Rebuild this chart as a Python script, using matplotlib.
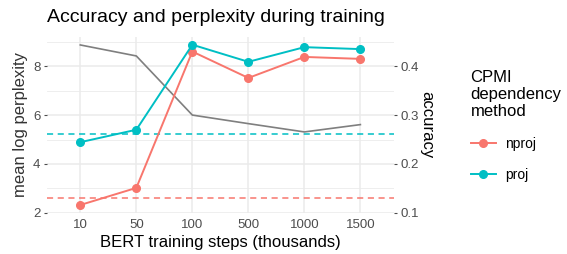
import matplotlib.pyplot as plt
from matplotlib.lines import Line2D

plt.rcParams['font.family'] = ['Liberation Sans', 'DejaVu Sans']

steps = ['10', '50', '100', '500', '1000', '1500']
perplexity = [8.87, 8.42, 6.0, 5.65, 5.31, 5.61]
acc_nproj = [0.116, 0.151, 0.430, 0.376, 0.419, 0.415]
acc_proj = [0.2445, 0.270, 0.444, 0.409, 0.439, 0.435]
baseline_nproj = 0.131
baseline_proj = 0.261

RED = '#F8766D'
TEAL = '#00BFC4'
GRID = '#EBEBEB'
TICK = '#4D4D4D'

fig = plt.figure(figsize=(5.67, 2.54), dpi=100, facecolor='w')
ax = fig.add_axes([46.7 / 567, 1 - 213 / 254, (394 - 46.7) / 567, (213 - 36.7) / 254])
x = list(range(len(steps)))

# shared scale: accuracy * 20 = perplexity units
lo = min(min(perplexity), min(acc_nproj) * 20, min(acc_proj) * 20)
hi = max(max(perplexity), max(acc_nproj) * 20, max(acc_proj) * 20)
pad = (hi - lo) * 0.05
ax.set_ylim(lo - pad, hi + pad)
ax.set_xlim(-0.6, len(steps) - 0.4)

for v in [3, 5, 7, 9]:
    ax.axhline(v, color=GRID, lw=0.6, zorder=0)
for v in [2, 4, 6, 8]:
    ax.axhline(v, color=GRID, lw=1.1, zorder=0)
for xi in x:
    ax.axvline(xi, color=GRID, lw=1.1, zorder=0)

ax.plot(x, perplexity, color='#7F7F7F', lw=1.2, zorder=2)

ax2 = ax.twinx()
ax2.set_ylim(ax.get_ylim()[0] / 20, ax.get_ylim()[1] / 20)
ax2.axhline(baseline_nproj, color=RED, lw=1.1, ls=(0, (4, 3)))
ax2.axhline(baseline_proj, color=TEAL, lw=1.1, ls=(0, (4, 3)))
ax2.plot(x, acc_nproj, color=RED, lw=1.4, marker='o', ms=5.5)
ax2.plot(x, acc_proj, color=TEAL, lw=1.4, marker='o', ms=5.5)

for a in (ax, ax2):
    for s in a.spines.values():
        s.set_visible(False)
    a.tick_params(colors=TICK, labelsize=9.5, length=2.5, width=0.8, pad=2)
ax.tick_params(axis='x', length=0, pad=4)

ax.set_xticks(x)
ax.set_xticklabels(steps)
ax.set_yticks([2, 4, 6, 8])
ax2.set_yticks([0.1, 0.2, 0.3, 0.4])
ax2.set_yticklabels(['0.1', '0.2', '0.3', '0.4'])

ax.set_xlabel('BERT training steps (thousands)', fontsize=12, labelpad=3)
ax.set_ylabel('mean log perplexity', fontsize=12, color='#333333', labelpad=4)
ax2.set_ylabel('accuracy', fontsize=12, rotation=-90, labelpad=11)
fig.text(46.7 / 567, 1 - 18 / 254, 'Accuracy and perplexity during training',
         fontsize=14, va='center', ha='left')

handles = [Line2D([], [], color=RED, lw=1.4, marker='o', ms=5.5),
           Line2D([], [], color=TEAL, lw=1.4, marker='o', ms=5.5)]
leg = fig.legend(handles, ['nproj', 'proj'], title='CPMI\ndependency\nmethod',
                 loc='upper left', bbox_to_anchor=(458 / 567, 1 - 57 / 254),
                 frameon=False, fontsize=10, title_fontsize=12, alignment='left',
                 handlelength=1.8, labelspacing=1.25, handletextpad=0.7)

plt.savefig('out.png', dpi=100)
